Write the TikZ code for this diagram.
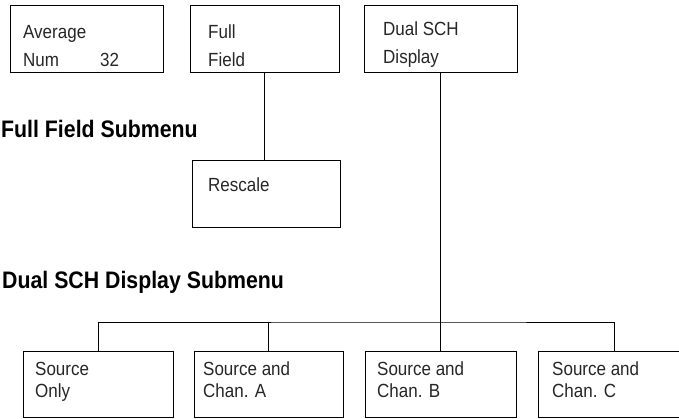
\documentclass[tikz,border=0pt]{standalone}
\usepackage{fontspec}
\setmainfont{Liberation Sans}
\newcommand{\mytx}[1]{\scalebox{1}[1.12]{#1}}
\begin{document}
\begin{tikzpicture}[x=1pt,y=-1pt,
  box/.style={draw=black, line width=0.9pt, inner sep=0pt, minimum height=67pt},
  txt/.style={anchor=base west, inner sep=0pt, text=black!85, font=\fontsize{17}{20}\selectfont},
  ttl/.style={anchor=base west, inner sep=0pt, text=black, font=\fontsize{21.3}{25}\selectfont\bfseries},
  conn/.style={draw=black, line width=0.9pt}]
\useasboundingbox (0,0) rectangle (679,418);
% top row
\node[box, minimum width=153pt] (avg) at (86.5,38.5) {};
\node[box, minimum width=149pt] (ff) at (264.5,38.5) {};
\node[box, minimum width=153pt] (ds) at (440.5,38.5) {};
% rescale
\node[box, minimum width=148pt] (rs) at (266,193.5) {};
% bottom row
\node[box, minimum width=150pt, minimum height=66pt] (so) at (98,384) {};
\node[box, minimum width=149pt, minimum height=66pt] (sa) at (268.5,384) {};
\node[box, minimum width=151pt, minimum height=66pt] (sb) at (440.5,384) {};
\node[box, minimum width=152pt, minimum height=66pt] (sc) at (614,384) {};
% texts
\node[txt] (avgA) at (23,38) {\mytx{Average}};
\node[txt] (avgB) at (23,66) {\mytx{Num}};
\node[txt] (avgC) at (100,66) {\mytx{32}};
\node[txt] (ffA) at (208,38) {\mytx{Full}};
\node[txt] (ffB) at (208,66) {\mytx{Field}};
\node[txt] (dsA) at (383,35) {\mytx{Dual SCH}};
\node[txt] (dsB) at (383,63) {\mytx{Display}};
\node[txt] (rsA) at (208,191) {\mytx{Rescale}};
\node[txt] (soA) at (35,375) {\mytx{Source}};
\node[txt] (soB) at (35,397) {\mytx{Only}};
\node[txt] (saA) at (203,375) {\mytx{Source and}};
\node[txt] (saB) at (203,397) {\mytx{Chan. A}};
\node[txt] (sbA) at (377,375) {\mytx{Source and}};
\node[txt] (sbB) at (377,397) {\mytx{Chan. B}};
\node[txt] (scA) at (552,375) {\mytx{Source and}};
\node[txt] (scB) at (552,397) {\mytx{Chan. C}};
% titles
\node[ttl] (t1) at (1,137) {\mytx{Full Field Submenu}};
\node[ttl] (t2) at (2,288) {\mytx{Dual SCH Display Submenu}};
% connectors
\coordinate (bus) at (440.5,322);
\draw[conn] (ff.south) -- (ff.south |- rs.north);
\draw[conn] (ds.south) -- (sb.north);
\draw[conn] (so.north) |- (bus) -| (sc.north);
\draw[conn] (sa.north) -- (sa.north |- bus);
\end{tikzpicture}
\end{document}
